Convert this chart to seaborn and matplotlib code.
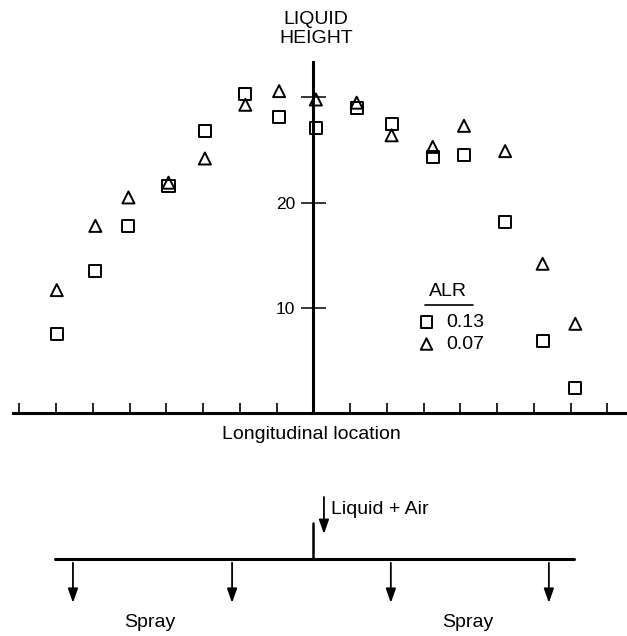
# Liquid height along the manifold, two air/liquid ratios (ALR)
import pandas as pd
import matplotlib.pyplot as plt
import seaborn as sns

sns.set_style('white')
plt.rcParams['font.family'] = ['Liberation Sans', 'DejaVu Sans']
# seaborn greys the text, the scan is plain black
plt.rcParams['text.color'] = 'black'
plt.rcParams['xtick.color'] = 'black'
plt.rcParams['ytick.color'] = 'black'

# data
positions = [-6.98, -5.93, -5.03, -3.94, -2.95, -1.85, -0.93, 0.07,
             1.18, 2.13, 3.25, 4.10, 5.22, 6.24, 7.13]
height_alr_013 = [7.5, 13.5, 17.8, 21.6, 26.8, 30.3, 28.1, 27.1,
                  29.0, 27.5, 24.3, 24.5, 18.2, 6.9, 2.4]
height_alr_007 = [11.7, 17.8, 20.5, 21.9, 24.2, 29.3, 30.6, 29.8,
                  29.5, 26.4, 25.3, 27.3, 24.9, 14.2, 8.5]
alr_labels = ['0.13', '0.07']
alr_markers = ['s', '^']
x_ticks = list(range(-8, 9))
y_ticks = [10, 20, 30]
y_tick_labels = ['10', '20', '']


def build_frame():
    """long-form table for seaborn"""
    frames = []
    for label, heights in zip(alr_labels, [height_alr_013, height_alr_007]):
        frames.append(pd.DataFrame({'position': positions,
                                    'height': heights,
                                    'ALR': label}))
    return pd.concat(frames, ignore_index=True)


def draw_axes(ax):
    # axes crossing at the centre, like the original drawing
    ax.set_xlim(-8.525, 8.536)
    ax.set_ylim(-21.15, 39.25)
    for side in ['top', 'right']:
        ax.spines[side].set_visible(False)
    ax.spines['left'].set_position(('data', 0))
    ax.spines['left'].set_bounds(0, 33.35)
    ax.spines['bottom'].set_position(('data', 0))
    ax.spines['bottom'].set_bounds(-8.17, 8.6)
    for side in ['left', 'bottom']:
        ax.spines[side].set_linewidth(2.2)
        ax.spines[side].set_color('black')

    ax.set_xticks(x_ticks)
    ax.set_xticklabels([])
    ax.tick_params(axis='x', bottom=True, direction='in', length=7,
                   width=1.2, color='black')
    ax.set_yticks(y_ticks, labels=y_tick_labels)
    ax.tick_params(axis='y', left=True, direction='inout', length=18,
                   width=1.1, color='black', pad=4, labelsize=12.5)
    ax.set_xlabel('')
    ax.set_ylabel('')

    ax.text(0.07, 36.5, 'LIQUID\nHEIGHT', ha='center', va='center',
            fontsize=14, linespacing=1.15)
    ax.text(-0.04, -1.97, 'Longitudinal location', ha='center',
            va='center', fontsize=14)


def draw_legend(ax):
    ax.text(3.67, 11.55, 'ALR', ha='center', va='center', fontsize=14)
    ax.plot([3.04, 4.35], [10.28, 10.28], color='black', lw=1.2)
    rows_y = [8.67, 6.58]
    for label, marker, y in zip(alr_labels, alr_markers, rows_y):
        ax.scatter([3.08], [y], marker=marker, s=68, facecolor='none',
                   edgecolor='black', linewidth=1.4)
        ax.text(3.61, y, label, ha='left', va='center', fontsize=14)


def draw_manifold(ax):
    """sketch of the pipe below the chart"""
    arrow = dict(arrowstyle='-|>,head_width=0.3,head_length=0.85',
                 lw=1.3, color='black', shrinkA=0, shrinkB=0)
    pipe_y = -13.84
    ax.plot([-7.03, 7.09], [pipe_y, pipe_y], color='black', lw=2.2)
    ax.plot([0, 0], [-10.4, pipe_y], color='black', lw=1.8)
    ax.annotate('', xy=(0.29, -11.46), xytext=(0.29, -7.95), arrowprops=arrow)
    ax.text(0.47, -9.09, 'Liquid + Air', ha='left', va='center', fontsize=14)
    for x in [-6.54, -2.21, 2.11, 6.41]:
        ax.annotate('', xy=(x, -18.0), xytext=(x, -14.2), arrowprops=arrow)
    for x in [-4.44, 4.21]:
        ax.text(x, -19.9, 'Spray', ha='center', va='center', fontsize=14)


def main():
    df = build_frame()
    fig = plt.figure(figsize=(6.27, 6.36), dpi=100)
    ax = fig.add_axes([0, 0, 1, 1])

    sns.scatterplot(data=df, x='position', y='height', style='ALR',
                    style_order=alr_labels,
                    markers=dict(zip(alr_labels, alr_markers)),
                    s=75, color='black', facecolor='none', edgecolor='black',
                    linewidth=1.4, legend=False, ax=ax, zorder=3)

    draw_axes(ax)
    draw_legend(ax)
    draw_manifold(ax)

    fig.savefig('out.png', dpi=100)
    print('saved out.png')


if __name__ == '__main__':
    main()
